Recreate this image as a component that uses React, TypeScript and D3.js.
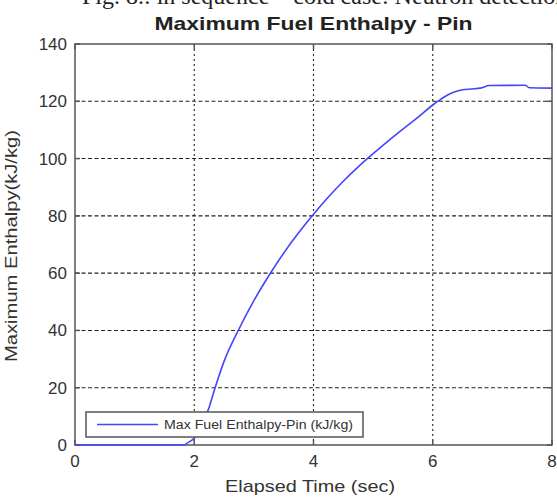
import React, { useEffect, useRef } from "react";
import * as d3 from "d3";

// elapsed time (sec) and max fuel enthalpy (kJ/kg)
const times = [0, 1.0, 1.82, 1.9, 2.0, 2.1, 2.2, 2.25, 2.35, 2.5, 2.75, 3.0, 3.25, 3.5, 3.75, 4.0, 4.25, 4.5, 4.75, 5.0, 5.25, 5.5, 5.75, 6.0, 6.1, 6.2, 6.3, 6.4, 6.5, 6.65, 6.8, 6.95, 7.55, 7.62, 8.0];
const enthalpy = [0, 0, 0, 0.9, 2.4, 5.5, 10.5, 13.2, 20, 29.2, 40.5, 50.4, 59.1, 67.0, 74.1, 80.6, 86.6, 92.1, 97.1, 101.7, 106.1, 110.3, 114.4, 118.7, 120.2, 121.6, 122.7, 123.5, 124.0, 124.3, 124.6, 125.5, 125.6, 124.7, 124.6];

const xTicks = [0, 2, 4, 6, 8];
const yTicks = [0, 20, 40, 60, 80, 100, 120, 140];

const chartTitle = "Maximum Fuel Enthalpy - Pin";
const xLabel = "Elapsed Time (sec)";
const yLabel = "Maximum Enthalpy(kJ/kg)";
const legendLabel = "Max Fuel Enthalpy-Pin (kJ/kg)";
const caption = "Fig. 8.: in sequence \u2013 cold case: Neutron detection";

const W = 557;
const H = 498;
const margin = { left: 75, right: 5, top: 44, bottom: 53 };

const App: React.FC = () => {
  const ref = useRef<SVGSVGElement>(null);

  useEffect(() => {
    document.body.style.margin = "0";
    if (!ref.current) return;
    const svg = d3.select(ref.current);
    svg.selectAll("*").remove();

    const x = d3.scaleLinear().domain([0, 8]).range([margin.left, W - margin.right]);
    const y = d3.scaleLinear().domain([0, 140]).range([H - margin.bottom, margin.top]);
    const sans = "'Liberation Sans', Arial, Helvetica, sans-serif";

    svg.append("rect").attr("width", W).attr("height", H).attr("fill", "#fff");

    // cut-off caption from the source document (only its lower half shows)
    svg
      .append("text")
      .attr("x", 82)
      .attr("y", 4)
      .attr("font-family", "'Liberation Serif', 'Times New Roman', serif")
      .attr("font-size", 24)
      .attr("fill", "#222")
      .text(caption);

    // grid
    const grid = svg.append("g").attr("stroke", "#222").attr("stroke-width", 1.1);
    grid
      .selectAll("line.gx")
      .data(xTicks.slice(1, -1))
      .enter()
      .append("line")
      .attr("x1", (d) => x(d))
      .attr("x2", (d) => x(d))
      .attr("y1", y(140))
      .attr("y2", y(0))
      .attr("stroke-dasharray", "2,3");
    grid
      .selectAll("line.gy")
      .data(yTicks.slice(1, -1))
      .enter()
      .append("line")
      .attr("x1", x(0))
      .attr("x2", x(8))
      .attr("y1", (d) => y(d))
      .attr("y2", (d) => y(d))
      .attr("stroke-dasharray", "4,2.5");

    // box + inward ticks
    const box = svg.append("g").attr("stroke", "#555").attr("stroke-width", 1.5).attr("fill", "none");
    box
      .append("rect")
      .attr("x", x(0))
      .attr("y", y(140))
      .attr("width", x(8) - x(0))
      .attr("height", y(0) - y(140));
    xTicks.forEach((t) => {
      box.append("line").attr("x1", x(t)).attr("x2", x(t)).attr("y1", y(0)).attr("y2", y(0) - 5);
      box.append("line").attr("x1", x(t)).attr("x2", x(t)).attr("y1", y(140)).attr("y2", y(140) + 5);
    });
    yTicks.forEach((v) => {
      box.append("line").attr("x1", x(0)).attr("x2", x(0) + 5).attr("y1", y(v)).attr("y2", y(v));
      box.append("line").attr("x1", x(8)).attr("x2", x(8) - 5).attr("y1", y(v)).attr("y2", y(v));
    });

    // tick labels
    svg
      .selectAll("text.xt")
      .data(xTicks)
      .enter()
      .append("text")
      .attr("x", (d) => x(d))
      .attr("y", y(0) + 22)
      .attr("text-anchor", "middle")
      .attr("font-family", sans)
      .attr("font-size", 17)
      .attr("fill", "#333")
      .text((d) => d);
    svg
      .selectAll("text.yt")
      .data(yTicks)
      .enter()
      .append("text")
      .attr("x", x(0) - 8)
      .attr("y", (d) => y(d) + 6)
      .attr("text-anchor", "end")
      .attr("font-family", sans)
      .attr("font-size", 17)
      .attr("fill", "#333")
      .text((d) => d);

    // curve
    const pts = times.map((t, i) => [t, enthalpy[i]] as [number, number]);
    const line = d3
      .line<[number, number]>()
      .x((d) => x(d[0]))
      .y((d) => y(d[1]))
      .curve(d3.curveMonotoneX);
    svg
      .append("path")
      .datum(pts)
      .attr("d", line)
      .attr("fill", "none")
      .attr("stroke", "#4444ff")
      .attr("stroke-width", 1.6);

    // legend
    const lg = svg.append("g");
    lg.append("rect")
      .attr("x", 86)
      .attr("y", 412)
      .attr("width", 277)
      .attr("height", 25)
      .attr("fill", "#fff")
      .attr("stroke", "#555")
      .attr("stroke-width", 1.5);
    lg.append("line")
      .attr("x1", 97)
      .attr("x2", 158)
      .attr("y1", 424.5)
      .attr("y2", 424.5)
      .attr("stroke", "#4444ff")
      .attr("stroke-width", 1.6);
    lg.append("text")
      .attr("x", 164)
      .attr("y", 429)
      .attr("font-family", sans)
      .attr("font-size", 12)
      .attr("fill", "#333")
      .attr("textLength", 189)
      .attr("lengthAdjust", "spacingAndGlyphs")
      .text(legendLabel);

    // title and axis labels
    svg
      .append("text")
      .attr("x", (x(0) + x(8)) / 2)
      .attr("y", 30)
      .attr("text-anchor", "middle")
      .attr("font-family", sans)
      .attr("font-weight", "bold")
      .attr("font-size", 19)
      .attr("fill", "#222")
      .attr("textLength", 318)
      .attr("lengthAdjust", "spacingAndGlyphs")
      .text(chartTitle);
    svg
      .append("text")
      .attr("x", 310)
      .attr("y", 492)
      .attr("text-anchor", "middle")
      .attr("font-family", sans)
      .attr("font-size", 17)
      .attr("fill", "#333")
      .attr("textLength", 170)
      .attr("lengthAdjust", "spacingAndGlyphs")
      .text(xLabel);
    svg
      .append("text")
      .attr("transform", "translate(17,246) rotate(-90)")
      .attr("text-anchor", "middle")
      .attr("font-family", sans)
      .attr("font-size", 17)
      .attr("fill", "#333")
      .attr("textLength", 232)
      .attr("lengthAdjust", "spacingAndGlyphs")
      .text(yLabel);
  }, []);

  return <svg ref={ref} width={W} height={H} style={{ display: "block" }} />;
};

export default App;
